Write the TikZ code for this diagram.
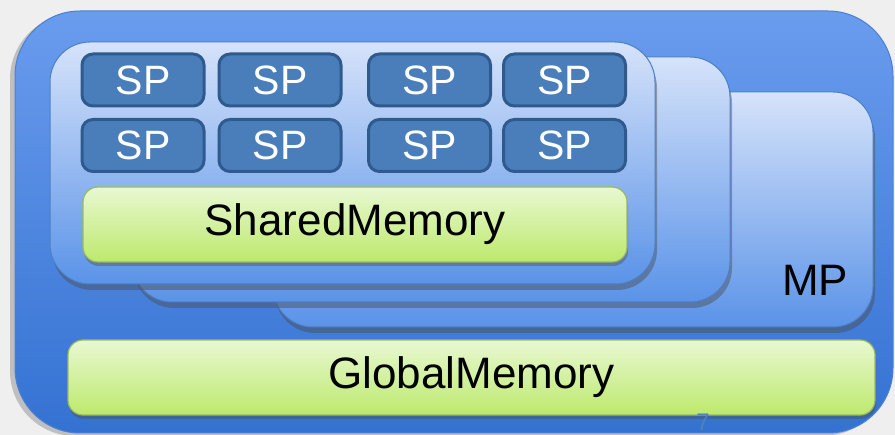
\documentclass[tikz,border=0pt]{standalone}
\usepackage{fontspec}
\setmainfont{Liberation Sans}
\usetikzlibrary{shadows}
\definecolor{pagegray}{HTML}{EFEFEF}
\definecolor{outertop}{HTML}{6A9CEE}
\definecolor{outerbot}{HTML}{3472D2}
\definecolor{outerline}{HTML}{4A80D8}
\definecolor{cardtop}{HTML}{D6E3FA}
\definecolor{cardbot}{HTML}{5A93E8}
\definecolor{cardline}{HTML}{4C7FC6}
\definecolor{spfill}{HTML}{4A7EBB}
\definecolor{spline}{HTML}{2F5A8E}
\definecolor{memtop}{HTML}{E8F8D2}
\definecolor{membot}{HTML}{BDE96C}
\definecolor{memline}{HTML}{9BBB59}
\definecolor{pagenum}{HTML}{4F81BD}
\tikzset{
  mpcard/.style={draw=cardline, line width=1pt, top color=cardtop, bottom color=cardbot,
    rounded corners=40pt, inner sep=0pt,
    drop shadow={shadow xshift=2pt, shadow yshift=-6pt, opacity=0.45, fill=black!70}},
  spbox/.style={draw=spline, line width=3pt, fill=spfill, rounded corners=11pt, inner sep=0pt,
    minimum width=122pt, minimum height=52pt, text=white, font=\fontsize{41}{41}\selectfont},
  membox/.style={draw=memline, line width=1.2pt, top color=memtop, bottom color=membot,
    rounded corners=15pt, inner sep=0pt, minimum height=75pt, font=\fontsize{44}{44}\selectfont,
    drop shadow={shadow xshift=1pt, shadow yshift=-4pt, opacity=0.4, fill=black!70}}
}
\begin{document}
\begin{tikzpicture}[x=1pt, y=-1pt]
  \fill[pagegray] (0,0) rectangle (895,435);
  \useasboundingbox (0,0) rectangle (895,435);
  % the multiprocessor frame
  \node (gpu) at (454,222) [draw=outerline, line width=1pt, top color=outertop, bottom color=outerbot,
    rounded corners=65pt, minimum width=878pt, minimum height=422pt, inner sep=0pt,
    drop shadow={shadow xshift=-5pt, shadow yshift=-3pt, opacity=0.35, fill=black!60}] {};
  % stacked MP cards, back to front
  \node (mp3) at (573,209.5) [mpcard, minimum width=600pt, minimum height=235pt] {};
  \node (mp2) at (431,179.5) [mpcard, minimum width=598pt, minimum height=245pt] {};
  \node (mp1) at (352.5,163) [mpcard, minimum width=605pt, minimum height=242pt] {};
  \node (mplabel) at (815,280) {\fontsize{44}{44}\selectfont MP};
  % streaming processors
  \node (sp1) at (143,80) [spbox] {SP}; \node (sp2) at (280,80) [spbox] {SP};
  \node (sp3) at (429.5,80) [spbox] {SP}; \node (sp4) at (564.5,80) [spbox] {SP};
  \node (sp5) at (143,145.5) [spbox] {SP}; \node (sp6) at (280,145.5) [spbox] {SP};
  \node (sp7) at (429.5,145.5) [spbox] {SP}; \node (sp8) at (564.5,145.5) [spbox] {SP};
  % memories
  \node (shared) at (355,224.5) [membox, minimum width=544pt] {SharedMemory};
  \node (global) at (471.5,377.5) [membox, minimum width=807pt] {GlobalMemory};
  \node (pgno) at (703,431) [anchor=base, inner sep=0pt, text=pagenum, font=\fontsize{24}{24}\selectfont] {7};
\end{tikzpicture}
\end{document}
